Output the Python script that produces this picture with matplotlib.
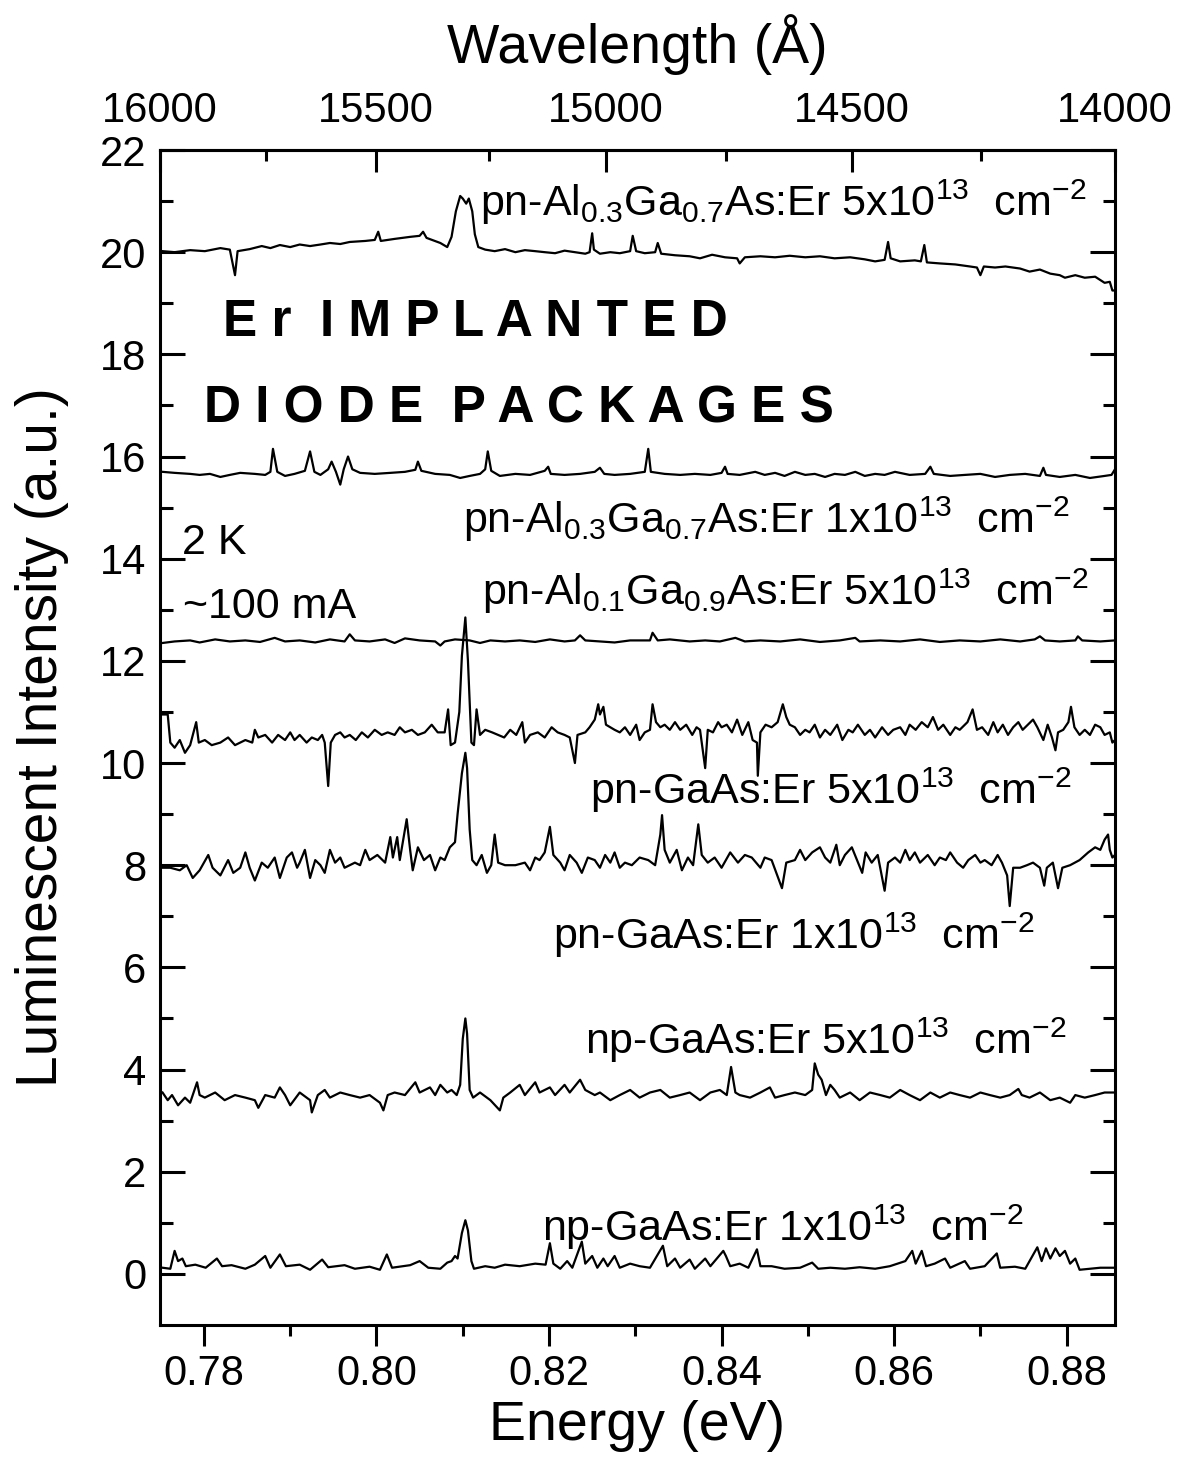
import numpy as np
import matplotlib
matplotlib.use('Agg')
import matplotlib.pyplot as plt
from matplotlib.ticker import FixedLocator, MultipleLocator

plt.rcParams['font.family'] = 'Liberation Sans'
plt.rcParams['mathtext.fontset'] = 'custom'
plt.rcParams['mathtext.rm'] = 'Liberation Sans'
plt.rcParams['mathtext.it'] = 'Liberation Sans'
plt.rcParams['mathtext.default'] = 'regular'

HC = 12398.4  # eV * Angstrom

## pn-Al0.3Ga0.7As:Er 5e13
e_al3_5 = [0.7752, 0.7766, 0.7784, 0.7801, 0.7819, 0.7830, 0.7836, 0.7839, 0.7853, 0.7867,
           0.7877, 0.7888, 0.7900, 0.7911, 0.7923, 0.7935, 0.7946, 0.7958, 0.7969, 0.7987,
           0.7998, 0.8002, 0.8005, 0.8021, 0.8039, 0.8050, 0.8054, 0.8058, 0.8074, 0.8082,
           0.8087, 0.8092, 0.8097, 0.8100, 0.8104, 0.8107, 0.8111, 0.8114, 0.8118, 0.8126,
           0.8137, 0.8149, 0.8161, 0.8172, 0.8184, 0.8195, 0.8207, 0.8218, 0.8230, 0.8242,
           0.8247, 0.8250, 0.8252, 0.8259, 0.8271, 0.8282, 0.8294, 0.8297, 0.8301, 0.8311,
           0.8323, 0.8326, 0.8330, 0.8346, 0.8363, 0.8375, 0.8389, 0.8404, 0.8418, 0.8421,
           0.8427, 0.8445, 0.8462, 0.8479, 0.8497, 0.8514, 0.8531, 0.8549, 0.8566, 0.8578,
           0.8589, 0.8593, 0.8596, 0.8607, 0.8624, 0.8631, 0.8635, 0.8638, 0.8653, 0.8671,
           0.8688, 0.8696, 0.8700, 0.8704, 0.8717, 0.8729, 0.8746, 0.8757, 0.8769, 0.8781,
           0.8792, 0.8798, 0.8810, 0.8821, 0.8833, 0.8844, 0.8850, 0.8853, 0.8856]
i_al3_5 = [20.02, 20.00, 20.04, 20.02, 20.08, 20.05, 19.55, 20.02, 20.06, 20.12,
           20.08, 20.14, 20.10, 20.15, 20.12, 20.15, 20.18, 20.16, 20.20, 20.22,
           20.24, 20.40, 20.22, 20.26, 20.30, 20.32, 20.40, 20.28, 20.18, 20.10,
           20.30, 20.80, 21.10, 21.05, 20.95, 21.05, 20.80, 20.35, 20.10, 20.05,
           20.02, 20.06, 20.00, 20.04, 20.02, 20.00, 19.98, 20.03, 20.00, 19.97,
           20.00, 20.37, 20.05, 19.97, 20.00, 19.98, 20.02, 20.32, 20.02, 19.98,
           20.00, 20.18, 19.97, 19.94, 19.92, 19.88, 19.95, 19.90, 19.88, 19.78,
           19.90, 19.92, 19.90, 19.93, 19.90, 19.92, 19.88, 19.90, 19.86, 19.82,
           19.85, 20.20, 19.88, 19.82, 19.84, 19.82, 20.14, 19.80, 19.78, 19.76,
           19.72, 19.70, 19.55, 19.72, 19.70, 19.72, 19.68, 19.62, 19.66, 19.58,
           19.55, 19.50, 19.55, 19.50, 19.52, 19.40, 19.42, 19.25, 19.25]

## pn-Al0.3Ga0.7As:Er 1e13
e_al3_1 = [0.7752, 0.7766, 0.7784, 0.7795, 0.7807, 0.7819, 0.7830, 0.7842, 0.7859, 0.7871,
           0.7877, 0.7880, 0.7885, 0.7894, 0.7905, 0.7917, 0.7923, 0.7928, 0.7935, 0.7944,
           0.7948, 0.7953, 0.7958, 0.7962, 0.7967, 0.7972, 0.7981, 0.7998, 0.8016, 0.8033,
           0.8045, 0.8048, 0.8052, 0.8068, 0.8085, 0.8097, 0.8108, 0.8120, 0.8126, 0.8129,
           0.8133, 0.8143, 0.8161, 0.8178, 0.8195, 0.8199, 0.8202, 0.8218, 0.8236, 0.8253,
           0.8259, 0.8264, 0.8276, 0.8294, 0.8311, 0.8315, 0.8318, 0.8334, 0.8352, 0.8369,
           0.8387, 0.8400, 0.8404, 0.8407, 0.8421, 0.8439, 0.8450, 0.8462, 0.8473, 0.8485,
           0.8497, 0.8508, 0.8520, 0.8531, 0.8543, 0.8555, 0.8566, 0.8578, 0.8589, 0.8601,
           0.8618, 0.8636, 0.8642, 0.8646, 0.8665, 0.8682, 0.8700, 0.8717, 0.8734, 0.8752,
           0.8769, 0.8773, 0.8776, 0.8792, 0.8810, 0.8827, 0.8844, 0.8852, 0.8856]
i_al3_1 = [15.70, 15.68, 15.66, 15.64, 15.66, 15.60, 15.64, 15.68, 15.66, 15.64,
           15.70, 16.15, 15.70, 15.62, 15.66, 15.72, 16.10, 15.70, 15.64, 15.75,
           15.90, 15.70, 15.45, 15.75, 16.00, 15.75, 15.68, 15.66, 15.68, 15.70,
           15.74, 15.90, 15.72, 15.66, 15.64, 15.58, 15.62, 15.66, 15.75, 16.10,
           15.72, 15.62, 15.66, 15.64, 15.72, 15.80, 15.66, 15.64, 15.66, 15.70,
           15.78, 15.66, 15.64, 15.66, 15.70, 16.15, 15.70, 15.66, 15.64, 15.66,
           15.64, 15.68, 15.80, 15.66, 15.64, 15.70, 15.64, 15.68, 15.62, 15.70,
           15.64, 15.66, 15.60, 15.66, 15.64, 15.70, 15.62, 15.66, 15.64, 15.70,
           15.64, 15.66, 15.80, 15.66, 15.62, 15.64, 15.66, 15.60, 15.64, 15.66,
           15.62, 15.78, 15.64, 15.60, 15.64, 15.58, 15.62, 15.64, 15.75]

## pn-Al0.1Ga0.9As:Er 5e13
e_al1_5 = [0.7752, 0.7766, 0.7784, 0.7795, 0.7813, 0.7830, 0.7848, 0.7865, 0.7882, 0.7894,
           0.7911, 0.7929, 0.7946, 0.7963, 0.7969, 0.7975, 0.7992, 0.8010, 0.8021, 0.8033,
           0.8050, 0.8068, 0.8074, 0.8079, 0.8091, 0.8108, 0.8120, 0.8132, 0.8149, 0.8166,
           0.8184, 0.8201, 0.8218, 0.8230, 0.8236, 0.8242, 0.8259, 0.8276, 0.8294, 0.8317,
           0.8320, 0.8326, 0.8340, 0.8363, 0.8381, 0.8398, 0.8416, 0.8427, 0.8445, 0.8468,
           0.8491, 0.8514, 0.8537, 0.8555, 0.8560, 0.8584, 0.8607, 0.8630, 0.8653, 0.8676,
           0.8700, 0.8723, 0.8746, 0.8763, 0.8769, 0.8775, 0.8792, 0.8810, 0.8813, 0.8818,
           0.8839, 0.8856]
i_al1_5 = [12.35, 12.38, 12.40, 12.36, 12.42, 12.38, 12.40, 12.37, 12.45, 12.38,
           12.40, 12.36, 12.42, 12.38, 12.52, 12.40, 12.38, 12.42, 12.35, 12.44,
           12.40, 12.38, 12.30, 12.38, 12.42, 12.40, 12.35, 12.40, 12.38, 12.40,
           12.37, 12.42, 12.38, 12.40, 12.50, 12.40, 12.38, 12.36, 12.40, 12.40,
           12.55, 12.40, 12.42, 12.38, 12.40, 12.38, 12.45, 12.38, 12.40, 12.38,
           12.42, 12.37, 12.40, 12.45, 12.38, 12.40, 12.38, 12.42, 12.37, 12.40,
           12.38, 12.42, 12.38, 12.42, 12.48, 12.40, 12.38, 12.40, 12.48, 12.40,
           12.38, 12.40]

## pn-GaAs:Er 5e13
e_pn_5 = [0.7752, 0.7758, 0.7761, 0.7766, 0.7772, 0.7778, 0.7784, 0.7791, 0.7794, 0.7801,
          0.7809, 0.7819, 0.7828, 0.7836, 0.7848, 0.7856, 0.7859, 0.7863, 0.7871, 0.7879,
          0.7886, 0.7894, 0.7900, 0.7905, 0.7911, 0.7919, 0.7925, 0.7932, 0.7937, 0.7940,
          0.7944, 0.7947, 0.7952, 0.7958, 0.7963, 0.7969, 0.7976, 0.7983, 0.7990, 0.7998,
          0.8006, 0.8013, 0.8021, 0.8027, 0.8033, 0.8041, 0.8048, 0.8056, 0.8064, 0.8071,
          0.8079, 0.8083, 0.8086, 0.8091, 0.8096, 0.8099, 0.8103, 0.8106, 0.8110, 0.8113,
          0.8116, 0.8120, 0.8126, 0.8134, 0.8141, 0.8148, 0.8155, 0.8162, 0.8169, 0.8172,
          0.8178, 0.8187, 0.8195, 0.8203, 0.8210, 0.8218, 0.8224, 0.8230, 0.8233, 0.8242,
          0.8247, 0.8253, 0.8257, 0.8259, 0.8263, 0.8266, 0.8271, 0.8276, 0.8282, 0.8288,
          0.8294, 0.8301, 0.8305, 0.8311, 0.8317, 0.8320, 0.8324, 0.8329, 0.8334, 0.8340,
          0.8346, 0.8352, 0.8359, 0.8366, 0.8371, 0.8375, 0.8381, 0.8384, 0.8390, 0.8396,
          0.8400, 0.8406, 0.8412, 0.8418, 0.8424, 0.8431, 0.8436, 0.8441, 0.8442, 0.8445,
          0.8451, 0.8458, 0.8465, 0.8471, 0.8475, 0.8479, 0.8485, 0.8491, 0.8497, 0.8502,
          0.8508, 0.8514, 0.8520, 0.8526, 0.8534, 0.8540, 0.8547, 0.8552, 0.8558, 0.8566,
          0.8572, 0.8578, 0.8586, 0.8593, 0.8599, 0.8607, 0.8613, 0.8618, 0.8625, 0.8632,
          0.8639, 0.8645, 0.8651, 0.8657, 0.8665, 0.8671, 0.8676, 0.8685, 0.8691, 0.8696,
          0.8702, 0.8709, 0.8715, 0.8720, 0.8726, 0.8732, 0.8738, 0.8744, 0.8749, 0.8755,
          0.8761, 0.8766, 0.8773, 0.8778, 0.8783, 0.8787, 0.8790, 0.8796, 0.8802, 0.8805,
          0.8809, 0.8815, 0.8821, 0.8827, 0.8833, 0.8839, 0.8844, 0.8850, 0.8853, 0.8856]
i_pn_5 = [10.95, 10.95, 10.40, 10.30, 10.45, 10.20, 10.35, 10.80, 10.40, 10.45,
          10.35, 10.40, 10.50, 10.35, 10.45, 10.40, 10.65, 10.50, 10.55, 10.40,
          10.55, 10.45, 10.60, 10.45, 10.55, 10.40, 10.50, 10.45, 10.55, 10.40,
          9.55, 10.40, 10.55, 10.60, 10.50, 10.55, 10.45, 10.60, 10.50, 10.65,
          10.55, 10.60, 10.55, 10.70, 10.60, 10.65, 10.55, 10.60, 10.75, 10.60,
          10.60, 11.05, 10.35, 10.40, 11.00, 12.10, 12.85, 12.00, 10.40, 10.35,
          11.05, 10.55, 10.65, 10.60, 10.55, 10.50, 10.65, 10.55, 10.80, 10.40,
          10.55, 10.60, 10.50, 10.70, 10.60, 10.55, 10.50, 10.00, 10.55, 10.60,
          10.70, 10.85, 11.15, 10.95, 11.10, 10.75, 10.70, 10.65, 10.60, 10.70,
          10.55, 10.75, 10.45, 10.60, 10.65, 11.15, 10.80, 10.70, 10.75, 10.65,
          10.80, 10.65, 10.75, 10.55, 10.70, 10.65, 9.90, 10.65, 10.60, 10.80,
          10.70, 10.75, 10.60, 10.85, 10.55, 10.80, 10.45, 10.40, 9.75, 10.60,
          10.75, 10.70, 10.80, 11.15, 10.90, 10.75, 10.70, 10.55, 10.65, 10.60,
          10.75, 10.50, 10.65, 10.55, 10.75, 10.45, 10.65, 10.60, 10.75, 10.55,
          10.65, 10.50, 10.70, 10.55, 10.65, 10.70, 10.55, 10.75, 10.65, 10.80,
          10.70, 10.90, 10.65, 10.75, 10.55, 10.70, 10.65, 10.80, 11.05, 10.65,
          10.70, 10.55, 10.80, 10.60, 10.75, 10.55, 10.70, 10.80, 10.65, 10.75,
          10.85, 10.70, 10.45, 10.75, 10.50, 10.25, 10.60, 10.65, 10.80, 11.10,
          10.70, 10.55, 10.65, 10.55, 10.75, 10.70, 10.55, 10.60, 10.40, 10.45]

## pn-GaAs:Er 1e13
e_pn_1 = [0.7752, 0.7761, 0.7772, 0.7780, 0.7787, 0.7795, 0.7805, 0.7810, 0.7819, 0.7828,
          0.7834, 0.7842, 0.7848, 0.7853, 0.7859, 0.7867, 0.7874, 0.7882, 0.7888, 0.7896,
          0.7902, 0.7908, 0.7911, 0.7917, 0.7923, 0.7929, 0.7935, 0.7940, 0.7946, 0.7952,
          0.7958, 0.7963, 0.7975, 0.7981, 0.7987, 0.7992, 0.8001, 0.8010, 0.8016, 0.8019,
          0.8024, 0.8027, 0.8031, 0.8035, 0.8039, 0.8042, 0.8048, 0.8055, 0.8062, 0.8068,
          0.8074, 0.8079, 0.8085, 0.8091, 0.8094, 0.8099, 0.8103, 0.8105, 0.8108, 0.8111,
          0.8116, 0.8122, 0.8128, 0.8133, 0.8137, 0.8141, 0.8149, 0.8161, 0.8172, 0.8178,
          0.8184, 0.8189, 0.8195, 0.8201, 0.8205, 0.8213, 0.8218, 0.8224, 0.8232, 0.8238,
          0.8245, 0.8253, 0.8259, 0.8265, 0.8271, 0.8276, 0.8282, 0.8288, 0.8296, 0.8305,
          0.8315, 0.8323, 0.8329, 0.8331, 0.8334, 0.8340, 0.8348, 0.8354, 0.8361, 0.8367,
          0.8373, 0.8377, 0.8384, 0.8392, 0.8400, 0.8410, 0.8419, 0.8427, 0.8435, 0.8445,
          0.8450, 0.8458, 0.8470, 0.8475, 0.8485, 0.8491, 0.8497, 0.8505, 0.8514, 0.8520,
          0.8526, 0.8533, 0.8537, 0.8543, 0.8551, 0.8557, 0.8563, 0.8567, 0.8574, 0.8581,
          0.8589, 0.8593, 0.8601, 0.8607, 0.8613, 0.8618, 0.8624, 0.8630, 0.8639, 0.8647,
          0.8653, 0.8660, 0.8665, 0.8673, 0.8680, 0.8686, 0.8694, 0.8700, 0.8705, 0.8713,
          0.8720, 0.8725, 0.8731, 0.8734, 0.8738, 0.8746, 0.8754, 0.8761, 0.8769, 0.8774,
          0.8777, 0.8784, 0.8790, 0.8795, 0.8804, 0.8815, 0.8825, 0.8833, 0.8839, 0.8844,
          0.8848, 0.8850, 0.8853, 0.8856]
i_pn_1 = [7.95, 7.95, 7.90, 8.00, 7.75, 7.90, 8.20, 7.95, 7.80, 8.10,
          7.85, 7.95, 8.25, 7.95, 7.70, 8.05, 7.95, 8.15, 7.75, 8.15,
          8.25, 7.95, 8.05, 8.30, 7.75, 8.10, 8.00, 7.85, 8.30, 8.05,
          8.15, 7.95, 8.05, 8.00, 8.30, 8.10, 8.20, 8.05, 8.55, 8.15,
          8.55, 8.10, 8.50, 8.90, 8.30, 7.90, 8.35, 8.10, 8.20, 7.90,
          8.15, 8.10, 8.35, 8.45, 9.00, 9.80, 10.20, 9.90, 8.70, 8.10,
          8.00, 8.20, 7.85, 8.00, 8.60, 8.05, 8.00, 8.00, 8.05, 7.90,
          8.15, 8.10, 8.25, 8.75, 8.20, 8.05, 7.90, 8.20, 8.05, 7.85,
          8.15, 8.10, 7.95, 8.20, 8.05, 8.25, 7.95, 8.05, 8.00, 8.15,
          8.10, 8.00, 8.60, 8.98, 8.30, 8.05, 8.30, 7.90, 8.15, 8.00,
          8.80, 8.20, 8.05, 8.15, 7.95, 8.25, 8.05, 8.20, 8.15, 7.95,
          8.15, 8.10, 7.55, 8.05, 8.10, 8.30, 8.10, 8.25, 8.35, 8.15,
          8.05, 8.40, 8.00, 8.20, 8.35, 8.10, 7.85, 8.25, 8.05, 8.20,
          7.50, 8.05, 8.15, 8.05, 8.30, 8.10, 8.25, 8.05, 8.20, 8.00,
          8.15, 8.10, 8.25, 8.05, 7.95, 8.10, 8.20, 8.05, 8.10, 8.00,
          8.20, 8.05, 7.80, 7.20, 7.95, 7.95, 8.00, 8.05, 7.95, 7.60,
          7.95, 8.05, 7.55, 7.95, 8.00, 8.10, 8.25, 8.35, 8.30, 8.50,
          8.60, 8.30, 8.15, 8.20]

## np-GaAs:Er 5e13
e_np_5 = [0.7752, 0.7758, 0.7763, 0.7770, 0.7778, 0.7784, 0.7792, 0.7795, 0.7801, 0.7813,
          0.7824, 0.7836, 0.7848, 0.7859, 0.7863, 0.7871, 0.7882, 0.7888, 0.7894, 0.7900,
          0.7911, 0.7923, 0.7925, 0.7932, 0.7940, 0.7946, 0.7958, 0.7969, 0.7981, 0.7992,
          0.8004, 0.8008, 0.8013, 0.8021, 0.8033, 0.8045, 0.8050, 0.8062, 0.8068, 0.8074,
          0.8082, 0.8087, 0.8093, 0.8097, 0.8100, 0.8103, 0.8105, 0.8108, 0.8112, 0.8120,
          0.8132, 0.8143, 0.8147, 0.8155, 0.8166, 0.8172, 0.8184, 0.8189, 0.8201, 0.8207,
          0.8218, 0.8224, 0.8236, 0.8242, 0.8253, 0.8259, 0.8271, 0.8282, 0.8294, 0.8305,
          0.8317, 0.8329, 0.8340, 0.8352, 0.8363, 0.8375, 0.8387, 0.8398, 0.8406, 0.8411,
          0.8416, 0.8421, 0.8433, 0.8445, 0.8456, 0.8462, 0.8473, 0.8485, 0.8497, 0.8505,
          0.8508, 0.8512, 0.8516, 0.8521, 0.8526, 0.8531, 0.8537, 0.8549, 0.8560, 0.8572,
          0.8584, 0.8595, 0.8607, 0.8618, 0.8630, 0.8642, 0.8653, 0.8665, 0.8676, 0.8688,
          0.8700, 0.8711, 0.8723, 0.8734, 0.8744, 0.8748, 0.8757, 0.8769, 0.8781, 0.8792,
          0.8804, 0.8810, 0.8821, 0.8833, 0.8844, 0.8856]
i_np_5 = [3.55, 3.40, 3.50, 3.30, 3.45, 3.35, 3.75, 3.50, 3.45, 3.55,
          3.40, 3.50, 3.45, 3.40, 3.25, 3.50, 3.45, 3.65, 3.50, 3.30,
          3.55, 3.40, 3.16, 3.50, 3.60, 3.45, 3.55, 3.50, 3.45, 3.50,
          3.35, 3.20, 3.50, 3.55, 3.50, 3.75, 3.55, 3.65, 3.50, 3.70,
          3.55, 3.60, 3.50, 3.70, 4.60, 5.00, 4.70, 3.60, 3.45, 3.55,
          3.40, 3.20, 3.45, 3.55, 3.70, 3.50, 3.75, 3.55, 3.65, 3.50,
          3.70, 3.55, 3.80, 3.60, 3.50, 3.55, 3.40, 3.50, 3.60, 3.45,
          3.55, 3.60, 3.45, 3.50, 3.55, 3.40, 3.55, 3.60, 3.50, 4.05,
          3.55, 3.50, 3.45, 3.55, 3.65, 3.45, 3.50, 3.55, 3.50, 3.60,
          4.12, 3.90, 3.80, 3.50, 3.70, 3.60, 3.45, 3.55, 3.40, 3.55,
          3.50, 3.45, 3.60, 3.50, 3.40, 3.55, 3.45, 3.55, 3.50, 3.45,
          3.55, 3.50, 3.45, 3.50, 3.62, 3.50, 3.45, 3.55, 3.40, 3.45,
          3.35, 3.50, 3.45, 3.50, 3.55, 3.55]

## np-GaAs:Er 1e13
e_np_1 = [0.7752, 0.7761, 0.7766, 0.7770, 0.7775, 0.7779, 0.7790, 0.7802, 0.7815, 0.7821,
          0.7832, 0.7848, 0.7859, 0.7871, 0.7877, 0.7888, 0.7895, 0.7911, 0.7923, 0.7937,
          0.7944, 0.7963, 0.7975, 0.7992, 0.8004, 0.8012, 0.8018, 0.8039, 0.8050, 0.8060,
          0.8074, 0.8082, 0.8087, 0.8091, 0.8094, 0.8099, 0.8103, 0.8106, 0.8110, 0.8113,
          0.8126, 0.8137, 0.8149, 0.8166, 0.8184, 0.8196, 0.8201, 0.8205, 0.8213, 0.8221,
          0.8227, 0.8238, 0.8242, 0.8250, 0.8256, 0.8263, 0.8268, 0.8276, 0.8282, 0.8294,
          0.8305, 0.8317, 0.8332, 0.8337, 0.8346, 0.8352, 0.8363, 0.8369, 0.8381, 0.8387,
          0.8402, 0.8405, 0.8410, 0.8421, 0.8431, 0.8441, 0.8445, 0.8458, 0.8473, 0.8491,
          0.8505, 0.8512, 0.8526, 0.8543, 0.8560, 0.8578, 0.8595, 0.8613, 0.8621, 0.8625,
          0.8632, 0.8637, 0.8647, 0.8659, 0.8665, 0.8682, 0.8688, 0.8705, 0.8719, 0.8723,
          0.8740, 0.8752, 0.8766, 0.8771, 0.8776, 0.8781, 0.8787, 0.8792, 0.8798, 0.8804,
          0.8810, 0.8815, 0.8827, 0.8839, 0.8856]
i_np_1 = [0.12, 0.10, 0.45, 0.25, 0.30, 0.15, 0.18, 0.12, 0.30, 0.15,
          0.17, 0.10, 0.18, 0.35, 0.12, 0.38, 0.15, 0.18, 0.08, 0.28,
          0.13, 0.17, 0.10, 0.14, 0.08, 0.38, 0.12, 0.17, 0.25, 0.12,
          0.10, 0.22, 0.25, 0.35, 0.30, 0.80, 1.05, 0.85, 0.25, 0.10,
          0.15, 0.12, 0.18, 0.15, 0.20, 0.18, 0.60, 0.20, 0.10, 0.25,
          0.12, 0.63, 0.20, 0.35, 0.12, 0.30, 0.15, 0.35, 0.12, 0.20,
          0.15, 0.12, 0.55, 0.15, 0.30, 0.12, 0.28, 0.10, 0.30, 0.15,
          0.45, 0.35, 0.15, 0.20, 0.12, 0.48, 0.15, 0.15, 0.10, 0.12,
          0.22, 0.10, 0.12, 0.10, 0.13, 0.10, 0.15, 0.25, 0.45, 0.20,
          0.45, 0.15, 0.20, 0.30, 0.12, 0.25, 0.10, 0.15, 0.40, 0.12,
          0.14, 0.10, 0.52, 0.25, 0.50, 0.30, 0.50, 0.35, 0.45, 0.20,
          0.30, 0.08, 0.10, 0.12, 0.12]

e_ticks = [0.78, 0.80, 0.82, 0.84, 0.86, 0.88]
w_ticks = [16000, 15500, 15000, 14500, 14000]
w_minor = [15750, 15250, 14750, 14250]
y_ticks = [0, 2, 4, 6, 8, 10, 12, 14, 16, 18, 20, 22]


def e2w(x):
    x = np.asarray(x, dtype=float)
    with np.errstate(divide='ignore'):
        return HC / x


fig = plt.figure(figsize=(11.77, 14.65), dpi=100)
ax = fig.add_axes([0.1359, 0.0956, 0.8114, 0.8020])

for e, i in [(e_al3_5, i_al3_5), (e_al3_1, i_al3_1), (e_al1_5, i_al1_5),
             (e_pn_5, i_pn_5), (e_pn_1, i_pn_1), (e_np_5, i_np_5), (e_np_1, i_np_1)]:
    ax.plot(e, i, color='k', lw=1.6)

ax.set_xlim(HC / 16000, HC / 14000)
ax.set_ylim(-1, 22)
ax.set_xticks(e_ticks, ['%.2f' % t for t in e_ticks])
ax.xaxis.set_minor_locator(MultipleLocator(0.01))
ax.set_yticks(y_ticks)
ax.yaxis.set_minor_locator(FixedLocator(range(1, 22, 2)))

ax.tick_params(axis='x', which='major', direction='out', length=15, width=2.2,
               labelsize=30, pad=6, top=False)
ax.tick_params(axis='x', which='minor', direction='out', length=8, width=2.2, top=False)
ax.tick_params(axis='y', which='major', direction='in', length=18, width=2.2,
               labelsize=30, pad=10, left=True, right=True)
ax.tick_params(axis='y', which='minor', direction='in', length=9, width=2.2,
               left=True, right=True)
for s in ax.spines.values():
    s.set_linewidth(2.2)

secax = ax.secondary_xaxis('top', functions=(e2w, e2w))
secax.set_xticks(w_ticks, [str(w) for w in w_ticks])
secax.xaxis.set_minor_locator(FixedLocator(w_minor))
secax.tick_params(which='major', direction='in', length=16, width=2.2, labelsize=30, pad=14)
secax.tick_params(which='minor', direction='in', length=8, width=2.2)
secax.spines['top'].set_linewidth(2.2)
secax.set_xlabel('Wavelength (Å)', fontsize=40, labelpad=20)

ax.set_xlabel('Energy (eV)', fontsize=40, labelpad=4)
ax.set_ylabel('Luminescent Intensity (a.u.)', fontsize=41, labelpad=22)

fs = 31
ax.text(0.8120, 20.70, r'pn-Al$_{0.3}$Ga$_{0.7}$As:Er 5x10$^{13}$  cm$^{-2}$', fontsize=fs, va='baseline')
ax.text(0.8100, 14.50, r'pn-Al$_{0.3}$Ga$_{0.7}$As:Er 1x10$^{13}$  cm$^{-2}$', fontsize=fs, va='baseline')
ax.text(0.8122, 13.10, r'pn-Al$_{0.1}$Ga$_{0.9}$As:Er 5x10$^{13}$  cm$^{-2}$', fontsize=fs, va='baseline')
ax.text(0.8247, 9.20, r'pn-GaAs:Er 5x10$^{13}$  cm$^{-2}$', fontsize=fs, va='baseline')
ax.text(0.8205, 6.35, r'pn-GaAs:Er 1x10$^{13}$  cm$^{-2}$', fontsize=fs, va='baseline')
ax.text(0.8242, 4.30, r'np-GaAs:Er 5x10$^{13}$  cm$^{-2}$', fontsize=fs, va='baseline')
ax.text(0.8192, 0.65, r'np-GaAs:Er 1x10$^{13}$  cm$^{-2}$', fontsize=fs, va='baseline')
ax.text(0.7775, 14.10, '2 K', fontsize=fs, va='baseline')
ax.text(0.7776, 12.84, '~100 mA', fontsize=fs, va='baseline')
ax.text(0.7822, 18.35, 'E r  I M P L A N T E D', fontsize=37, fontweight='bold', va='baseline')
ax.text(0.7800, 16.67, 'D I O D E  P A C K A G E S', fontsize=37, fontweight='bold', va='baseline')

fig.savefig('out.png', dpi=100)
